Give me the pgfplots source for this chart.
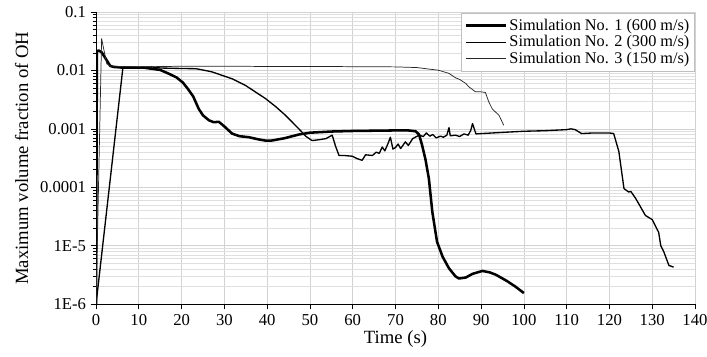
\documentclass[border=0pt]{standalone}
\usepackage{fontspec}
\setmainfont{Liberation Serif}
\usepackage{pgfplots}
\pgfplotsset{compat=1.18}
\begin{document}
\begin{tikzpicture}
\begin{axis}[
  scale only axis,
  width=449pt, height=219pt,
  ymode=log,
  xmin=0, xmax=140, ymin=1e-6, ymax=0.1,
  xtick={0,10,...,140},
  ytick={1e-6,1e-5,1e-4,1e-3,1e-2,1e-1},
  yticklabels={1E-6,1E-5,0.0001,0.001,0.01,0.1},
  axis x line*=bottom, axis y line*=left,
  axis line style={black, line width=0.6pt, -},
  tick align=outside,
  major tick length=4pt, minor tick length=2.5pt,
  tick style={black, line width=0.5pt},
  grid=both,
  major grid style={gray!35, line width=0.5pt},
  minor grid style={gray!25, line width=0.4pt},
  minor x tick num=0,
  /pgf/number format/assume math mode=true,
  ticklabel style={font=\fontsize{12.5}{14}\selectfont},
  xlabel={Time (s)}, ylabel={Maximum volume fraction of OH},
  label style={font=\fontsize{14}{16}\selectfont},
  xlabel style={yshift=3pt},
  ylabel style={yshift=2pt},
  legend style={at={(1,1)}, anchor=north east, xshift=0pt, yshift=-1pt,
    draw=gray!50, fill=white, font=\fontsize{12.2}{13.5}\selectfont,
    row sep=-1.5pt, inner sep=2pt},
  legend cell align=left,
  legend image code/.code={\draw[#1] (0cm,0cm) -- (1.05cm,0cm);},
]
\addplot[black, line width=1.9pt, line join=round] coordinates {
(0,1e-6) (0.2,0.021) (0.6,0.022) (1.3,0.0205) (2.1,0.0166) (3.3,0.012) (4,0.0115) (6,0.0112) (11,0.0112) (15,0.0102) (17,0.0088) (18.8,0.0076) (20.3,0.0062) (21.5,0.0048) (22.7,0.0036) (24,0.0022) (25,0.0017) (26.4,0.0014) (27.5,0.0013) (28.7,0.00132) (30,0.0011) (31.8,0.00083) (33.5,0.00075) (35.7,0.00072) (38,0.00066) (39.6,0.00063) (41,0.00063) (44,0.00069) (47.4,0.0008) (50,0.00086) (55,0.0009) (60,0.00092) (65,0.00093) (70,0.00094) (73,0.00094) (74.7,0.00091) (75.5,0.0008) (76.2,0.00053) (77,0.0003) (77.8,0.00014) (78.6,0.000038) (79.7,1.17e-5) (81,6.5e-6) (82.5,4.1e-6) (84,3e-6) (84.8,2.75e-6) (86.4,2.85e-6) (88,3.3e-6) (90.3,3.7e-6) (92,3.5e-6) (93.4,3.2e-6) (96,2.5e-6) (98,2e-6) (100,1.55e-6)
};
\addlegendentry{Simulation No. 1 (600 m/s)}
\addplot[black, line width=1.0pt, line join=round] coordinates {
(0,1e-6) (6.3,0.0115) (10,0.0112) (13,0.0115) (15,0.011) (20,0.0108) (23.4,0.0107) (27,0.0095) (31.8,0.0072) (35,0.0055) (39.6,0.0033) (42,0.0024) (44.3,0.0017) (47.4,0.001) (49,0.00075) (50.5,0.00063) (52,0.00065) (53.7,0.00068) (55.2,0.00078) (56,0.0005) (56.8,0.00035) (58,0.00035) (59.9,0.00034) (61,0.00031) (62.2,0.00029) (63,0.00036) (64.6,0.00035) (65.5,0.0004) (66.2,0.00038) (66.9,0.00049) (67.5,0.00042) (68.2,0.00055) (68.8,0.00072) (69.4,0.00045) (70,0.00048) (70.6,0.00055) (71.2,0.00046) (72.3,0.0006) (73,0.00052) (74,0.00068) (75.5,0.00078) (76.5,0.00074) (77.2,0.00085) (78,0.00075) (78.7,0.0008) (79.5,0.0007) (80.5,0.00075) (81.2,0.00072) (82,0.00078) (82.5,0.00105) (82.8,0.00076) (84,0.00078) (85,0.00074) (86,0.00082) (87,0.00078) (87.6,0.00095) (88,0.00123) (88.5,0.00095) (88.8,0.00082) (95,0.00087) (100,0.00091) (105,0.00093) (110,0.00097) (111,0.001) (112,0.00097) (113.5,0.00083) (116,0.00085) (120,0.00085) (121,0.00083) (122.2,0.00041) (123.4,0.000095) (124.5,0.000083) (125,0.000085) (126.1,0.000065) (127,0.00005) (128.4,0.000033) (130,0.000028) (131.5,0.000017) (132,0.00001) (132.7,7.9e-6) (133.9,4.6e-6) (135,4.3e-6)
};
\addlegendentry{Simulation No. 2 (300 m/s)}
\addplot[black!85, line width=0.55pt, line join=round] coordinates {
(0,1e-6) (1.3,0.035) (2.5,0.013) (3.5,0.0118) (10,0.0115) (20,0.0118) (30,0.0118) (40,0.0117) (50,0.0117) (60,0.0116) (70,0.0115) (75,0.0112) (78.5,0.0104) (80,0.0101) (82.5,0.0089) (84,0.0075) (85,0.007) (86.4,0.006) (87.2,0.0052) (88.7,0.0043) (90,0.0043) (91,0.0042) (91.8,0.0029) (92.6,0.0022) (94.2,0.0017) (95.3,0.00115)
};
\addlegendentry{Simulation No. 3 (150 m/s)}
\end{axis}
\pgfresetboundingbox
\path (-72pt,-39pt) rectangle (458pt,228pt);
\end{tikzpicture}
\end{document}
